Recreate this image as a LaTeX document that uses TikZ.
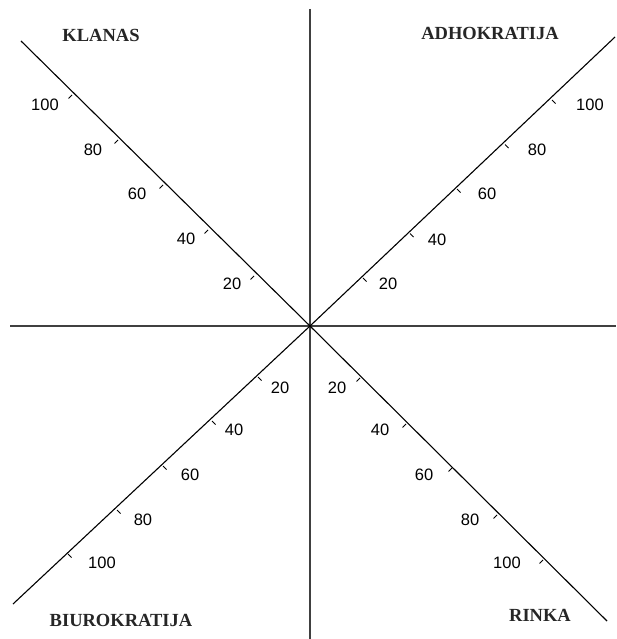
\documentclass[tikz,border=0pt]{standalone}
\usepackage{fontspec}
\setmainfont{Liberation Serif}
\newfontfamily\numfont{Liberation Sans}
\begin{document}
\begin{tikzpicture}[x=1pt,y=-1pt,
  axis/.style={line width=1.3pt,black!75},
  diag/.style={line width=1.1pt,black},
  tick/.style={line width=0.9pt,black},
  num/.style={font=\numfont\fontsize{16.5}{18}\selectfont,inner sep=0pt,anchor=center},
  quad/.style={font=\fontsize{18.5}{20}\selectfont\bfseries,inner sep=0pt,anchor=base,text=black!85}]
\useasboundingbox (0,0) rectangle (616,639);
\fill[white] (0,0) rectangle (616,639);
\coordinate (c) at (310,326);
\coordinate (top) at (310,9);
\coordinate (bot) at (310,639);
\coordinate (left) at (10,326);
\coordinate (right) at (616,326);
\coordinate (ul) at (21,41);
\coordinate (ur) at (615,37);
\coordinate (ll) at (13,604);
\coordinate (lr) at (607,621);
\draw[axis] (top) -- (bot);
\draw[axis] (left) -- (right);
\draw[diag] (ul) -- (c);
\draw[diag] (c) -- (ur);
\draw[diag] (c) -- (ll);
\draw[diag] (c) -- (lr);
% ticks
\foreach \x/\y in {254/276,208/230,163/185,118/140,72/95}
  \draw[tick] (\x,\y) -- ++(-3.5,3.5);
\foreach \x/\y in {363/278,410/233.5,457/189,505/144.5,552/100}
  \draw[tick] (\x,\y) -- ++(3.5,3.5);
\foreach \x/\y in {258/377,212/421,163/466,117/510,68/554}
  \draw[tick] (\x,\y) -- ++(3.5,3.5);
\foreach \x/\y in {360/378,406/424,452/468,497/515,543/560}
  \draw[tick] (\x,\y) -- ++(-3.5,3.5);
% numbers
\foreach \v/\x/\y in {100/45/105,80/93/150,60/137/194,40/186/239,20/232/284}
  \node[num] (ul\v) at (\x,\y) {\v};
\foreach \v/\x/\y in {20/388/284,40/437/240,60/487/194,80/537/150,100/590/105}
  \node[num] (ur\v) at (\x,\y) {\v};
\foreach \v/\x/\y in {20/280/388,40/234/430,60/190/475,80/143/520,100/102/563}
  \node[num] (ll\v) at (\x,\y) {\v};
\foreach \v/\x/\y in {20/337/388,40/380/430,60/424/475,80/470/520,100/507/563}
  \node[num] (lr\v) at (\x,\y) {\v};
% quadrant labels
\node[quad] (klanas) at (101,41.5) {KLANAS};
\node[quad] (adho) at (490,40) {ADHOKRATIJA};
\node[quad] (biuro) at (121,626.5) {BIUROKRATIJA};
\node[quad] (rinka) at (540,621.5) {RINKA};
\end{tikzpicture}
\end{document}
